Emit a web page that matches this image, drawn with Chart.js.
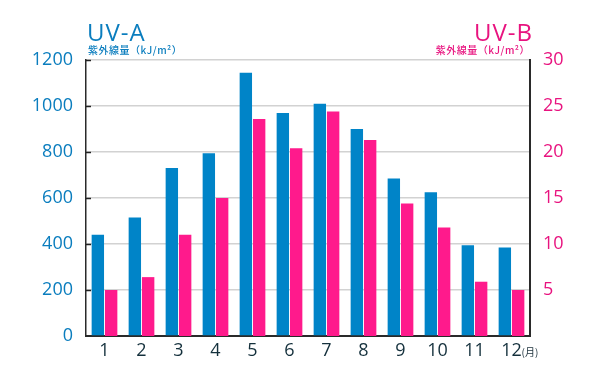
<!DOCTYPE html>
<html>
<head>
<meta charset="utf-8">
<script src="https://cdn.jsdelivr.net/npm/chart.js@4"></script>
<style>
html,body{margin:0;padding:0;background:#fff;}
#wrap{width:600px;height:381px;position:relative;}
</style>
</head>
<body>
<div id="wrap"><canvas id="c" width="600" height="381"></canvas></div>
<script>
const months = ['1','2','3','4','5','6','7','8','9','10','11','12'];
const uvA = [440, 515, 730, 795, 1145, 970, 1010, 900, 685, 625, 395, 385];
const uvB = [5.0, 6.4, 11.0, 15.0, 23.6, 20.4, 24.4, 21.3, 14.4, 11.8, 5.9, 5.0];
const uvATicks = [0, 200, 400, 600, 800, 1000, 1200];
const uvBTicks = [5, 10, 15, 20, 25, 30];
const titleA = 'UV-A';
const titleB = 'UV-B';
const unitText = '紫外線量（kJ/m²）';
const monthUnit = '(月)';

const BLUE = '#0084C8';
const PINK = '#FF1A8C';
const BLUE_TXT = '#0A7DBE';
const PINK_TXT = '#E8137F';

const decor = {
  id: 'decor',
  afterDraw(chart) {
    const ctx = chart.ctx;
    const a = chart.chartArea;
    const yA = chart.scales.yA;
    const x = chart.scales.x;
    ctx.save();
    ctx.strokeStyle = '#222';
    ctx.lineWidth = 1.5;
    uvATicks.forEach(v => {
      if (v === 0) return;
      const py = Math.round(yA.getPixelForValue(v)) + 0.5;
      ctx.beginPath();
      ctx.moveTo(a.left, py);
      ctx.lineTo(a.left + 5, py);
      ctx.stroke();
    });
    ctx.textBaseline = 'alphabetic';
    ctx.fillStyle = BLUE_TXT;
    ctx.font = '500 24px "Open Sans"';
    ctx.textAlign = 'left';
    if ('letterSpacing' in ctx) ctx.letterSpacing = '1px';
    ctx.fillText(titleA, a.left + 1, 41);
    ctx.fillStyle = PINK_TXT;
    ctx.textAlign = 'right';
    ctx.fillText(titleB, a.right + 3, 41);
    if ('letterSpacing' in ctx) ctx.letterSpacing = '0.5px';
    ctx.font = '500 10px "Noto Sans CJK JP"';
    ctx.fillStyle = BLUE_TXT;
    ctx.textAlign = 'left';
    ctx.fillText(unitText, a.left + 2, 54);
    ctx.fillStyle = PINK_TXT;
    ctx.textAlign = 'right';
    ctx.fillText(unitText, a.right, 54);
    if ('letterSpacing' in ctx) ctx.letterSpacing = '0px';
    ctx.fillStyle = '#1B2F3A';
    ctx.font = '400 10px "Noto Sans CJK JP"';
    ctx.textAlign = 'left';
    const lx = x.getPixelForValue(months.length - 1);
    ctx.fillText(monthUnit, lx + 10, 356);
    ctx.restore();
  }
};

new Chart(document.getElementById('c'), {
  type: 'bar',
  data: {
    labels: months,
    datasets: [
      { label: titleA, data: uvA, backgroundColor: BLUE, yAxisID: 'yA',
        categoryPercentage: 0.72, barPercentage: 0.93 },
      { label: titleB, data: uvB, backgroundColor: PINK, yAxisID: 'yB',
        categoryPercentage: 0.72, barPercentage: 0.93 }
    ]
  },
  options: {
    responsive: false,
    animation: false,
    devicePixelRatio: 1,
    layout: { padding: { top: 60, left: 0, right: 0, bottom: 0 } },
    plugins: { legend: { display: false }, tooltip: { enabled: false }, title: { display: false } },
    scales: {
      x: {
        grid: { display: false, drawTicks: false },
        border: { display: true, color: '#2a2a2a', width: 2 },
        ticks: { color: '#14303C', font: { family: '"Open Sans"', size: 18, weight: '500' }, padding: 4, maxRotation: 0 },
        afterFit(s) { s.height = 45; }
      },
      yA: {
        position: 'left',
        min: 0, max: 1200,
        afterBuildTicks(s) { s.ticks = uvATicks.map(v => ({ value: v })); },
        grid: { color: '#D2D2D2', lineWidth: 1.5, drawTicks: false },
        border: { display: true, color: '#2a2a2a', width: 1.5 },
        ticks: { color: BLUE_TXT, font: { family: '"Open Sans"', size: 18, weight: '500' }, padding: 13,
                 callback: v => String(v) },
        afterFit(s) { s.width = 86; }
      },
      yB: {
        position: 'right',
        min: 0, max: 30,
        afterBuildTicks(s) { s.ticks = uvBTicks.map(v => ({ value: v })); },
        grid: { display: false, drawTicks: false },
        border: { display: true, color: '#2a2a2a', width: 2 },
        ticks: { color: PINK_TXT, font: { family: '"Open Sans"', size: 18, weight: '500' }, padding: 13,
                 callback: v => String(v) },
        afterFit(s) { s.width = 70; }
      }
    }
  },
  plugins: [decor]
});
</script>
</body>
</html>
